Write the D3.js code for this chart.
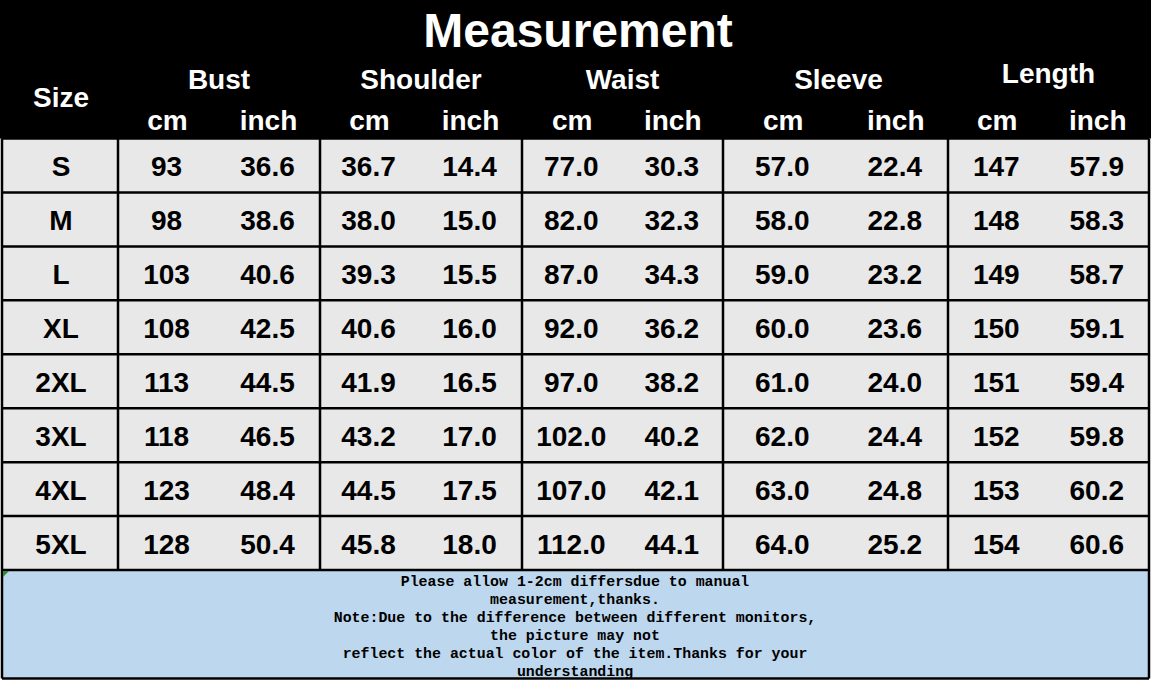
<!DOCTYPE html>
<html>
<head>
<meta charset="utf-8">
<script src="https://cdn.jsdelivr.net/npm/d3@7"></script>
<style>
  html, body { margin: 0; padding: 0; background: #ffffff; overflow: hidden; }
  svg { display: block; }
</style>
</head>
<body>
<svg id="chart" width="1151" height="681"></svg>
<script>
// ---------- data ----------
const title = "Measurement";
const sizes = ["S", "M", "L", "XL", "2XL", "3XL", "4XL", "5XL"];
const groups = ["Bust", "Shoulder", "Waist", "Sleeve", "Length"];
const units = ["cm", "inch"];
const bustCm = [93, 98, 103, 108, 113, 118, 123, 128];
const bustInch = [36.6, 38.6, 40.6, 42.5, 44.5, 46.5, 48.4, 50.4];
const shoulderCm = [36.7, 38.0, 39.3, 40.6, 41.9, 43.2, 44.5, 45.8];
const shoulderInch = [14.4, 15.0, 15.5, 16.0, 16.5, 17.0, 17.5, 18.0];
const waistCm = [77.0, 82.0, 87.0, 92.0, 97.0, 102.0, 107.0, 112.0];
const waistInch = [30.3, 32.3, 34.3, 36.2, 38.2, 40.2, 42.1, 44.1];
const sleeveCm = [57.0, 58.0, 59.0, 60.0, 61.0, 62.0, 63.0, 64.0];
const sleeveInch = [22.4, 22.8, 23.2, 23.6, 24.0, 24.4, 24.8, 25.2];
const lengthCm = [147, 148, 149, 150, 151, 152, 153, 154];
const lengthInch = [57.9, 58.3, 58.7, 59.1, 59.4, 59.8, 60.2, 60.6];
const noteLines = [
  "Please allow 1-2cm differsdue to manual",
  "measurement,thanks.",
  "Note:Due to the difference between different monitors,",
  "the picture may not",
  "reflect the actual color of the item.Thanks for your",
  "understanding"
];

// ---------- layout ----------
const svg = d3.select("#chart");
const W = 1151, H = 681;
const left = 2, right = 1149;
const headerBottom = 138.5, tableBottom = 570, noteBottom = 678.5;
const groupEdges = [118, 320, 522, 723, 948, 1149];
const groupShift = [-2, -2, -1, 3, -2];
const FONT = "'Liberation Sans', Arial, Helvetica, sans-serif";

const columns = [
  { g: 0, u: 0, vals: bustCm, fmt: d3.format("d") },
  { g: 0, u: 1, vals: bustInch, fmt: d3.format(".1f") },
  { g: 1, u: 0, vals: shoulderCm, fmt: d3.format(".1f") },
  { g: 1, u: 1, vals: shoulderInch, fmt: d3.format(".1f") },
  { g: 2, u: 0, vals: waistCm, fmt: d3.format(".1f") },
  { g: 2, u: 1, vals: waistInch, fmt: d3.format(".1f") },
  { g: 3, u: 0, vals: sleeveCm, fmt: d3.format(".1f") },
  { g: 3, u: 1, vals: sleeveInch, fmt: d3.format(".1f") },
  { g: 4, u: 0, vals: lengthCm, fmt: d3.format("d") },
  { g: 4, u: 1, vals: lengthInch, fmt: d3.format(".1f") }
];

// row scale
const y = d3.scaleBand().domain(sizes).range([headerBottom, tableBottom]).padding(0);
const gx = d3.scaleOrdinal().domain(groups).range(groupEdges.slice(0, 5));
const gw = d3.scaleOrdinal().domain(groups).range(groupEdges.slice(1).map((e, i) => e - groupEdges[i]));
const unitCenter = (gi, ui) => {
  const g = groups[gi];
  const sub = d3.scaleBand().domain(units).range([gx(g), gx(g) + gw(g)]);
  return sub(units[ui]) + sub.bandwidth() / 2 + groupShift[gi];
};

// header background
svg.append("rect").attr("x", 0).attr("y", 0).attr("width", W).attr("height", headerBottom)
  .attr("fill", "#000000");

// body background
svg.append("rect").attr("x", left).attr("y", headerBottom).attr("width", right - left)
  .attr("height", tableBottom - headerBottom).attr("fill", "#e8e8e8");

// note background
svg.append("rect").attr("x", left).attr("y", tableBottom).attr("width", right - left)
  .attr("height", noteBottom - tableBottom).attr("fill", "#bdd7ee");

// title
svg.append("text").attr("x", 578).attr("y", 47)
  .attr("text-anchor", "middle").attr("fill", "#fff")
  .attr("font-family", FONT).attr("font-weight", "bold").attr("font-size", 48)
  .text(title);

// Size header
svg.append("text").attr("x", 61).attr("y", 107)
  .attr("text-anchor", "middle").attr("fill", "#fff")
  .attr("font-family", FONT).attr("font-weight", "bold").attr("font-size", 28)
  .text("Size");

// group headers
svg.selectAll("text.group").data(groups).join("text").attr("class", "group")
  .attr("x", (d, i) => gx(d) + gw(d) / 2 + (i === 3 ? 3 : 0))
  .attr("y", (d, i) => i === 4 ? 83 : 89)
  .attr("text-anchor", "middle").attr("fill", "#fff")
  .attr("font-family", FONT).attr("font-weight", "bold").attr("font-size", 28)
  .text(d => d);

// unit headers
svg.selectAll("text.unit").data(columns).join("text").attr("class", "unit")
  .attr("x", d => unitCenter(d.g, d.u) + 1)
  .attr("y", 130)
  .attr("text-anchor", "middle").attr("fill", "#fff")
  .attr("font-family", FONT).attr("font-weight", "bold").attr("font-size", 28)
  .text(d => units[d.u]);

// size labels
svg.selectAll("text.size").data(sizes).join("text").attr("class", "size")
  .attr("x", 61).attr("y", d => y(d) + y.bandwidth() / 2 + 11)
  .attr("text-anchor", "middle").attr("fill", "#000")
  .attr("font-family", FONT).attr("font-weight", "bold").attr("font-size", 28)
  .text(d => d);

// data cells
const cells = [];
columns.forEach(c => c.vals.forEach((v, r) => cells.push({ c, r, v })));
svg.selectAll("text.cell").data(cells).join("text").attr("class", "cell")
  .attr("x", d => unitCenter(d.c.g, d.c.u))
  .attr("y", d => y(sizes[d.r]) + y.bandwidth() / 2 + 11)
  .attr("text-anchor", "middle").attr("fill", "#000")
  .attr("font-family", FONT).attr("font-weight", "bold").attr("font-size", 28)
  .text(d => d.c.fmt(d.v));

// grid lines
const lineG = svg.append("g").attr("stroke", "#000").attr("stroke-width", 2.5);
const hLines = sizes.map(s => y(s)).concat([tableBottom]);
lineG.selectAll("line.h").data(hLines).join("line").attr("class", "h")
  .attr("x1", left).attr("x2", right).attr("y1", d => d).attr("y2", d => d);
const vLines = [left, ...groupEdges];
lineG.selectAll("line.v").data(vLines).join("line").attr("class", "v")
  .attr("x1", d => d).attr("x2", d => d).attr("y1", headerBottom).attr("y2", tableBottom);
lineG.append("line").attr("x1", left).attr("x2", left).attr("y1", tableBottom).attr("y2", noteBottom);
lineG.append("line").attr("x1", right).attr("x2", right).attr("y1", tableBottom).attr("y2", noteBottom);
lineG.append("line").attr("x1", left).attr("x2", right).attr("y1", noteBottom).attr("y2", noteBottom);
lineG.append("line").attr("x1", left).attr("x2", left).attr("y1", 0).attr("y2", headerBottom);

// small green comment marker
svg.append("path").attr("d", `M${left + 1},${tableBottom + 1} l6,0 l-6,6 z`).attr("fill", "#2e8b2e");

// note text
svg.selectAll("text.note").data(noteLines).join("text").attr("class", "note")
  .attr("x", 575).attr("y", (d, i) => 586 + i * 18)
  .attr("text-anchor", "middle").attr("fill", "#000")
  .attr("font-family", "'Liberation Mono', 'DejaVu Sans Mono', monospace")
  .attr("font-weight", "bold").attr("font-size", 14.9)
  .text(d => d);
</script>
</body>
</html>
